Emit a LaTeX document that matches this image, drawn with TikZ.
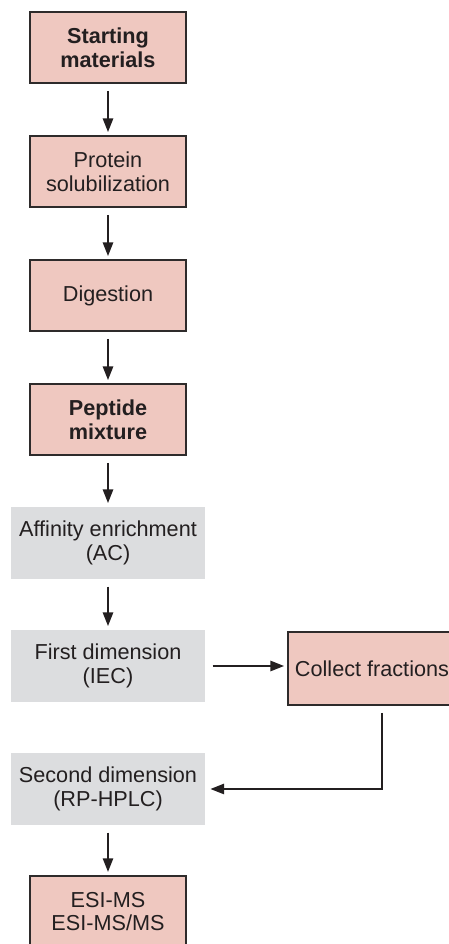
\documentclass[tikz,border=0pt]{standalone}
\usepackage{fontspec}
\setmainfont{Liberation Sans}
\usetikzlibrary{arrows.meta}
\definecolor{ink}{HTML}{231F20}
\definecolor{edge}{HTML}{2E2B2B}
\definecolor{blush}{HTML}{EFC8C0}
\definecolor{haze}{HTML}{DCDDDF}

\begin{document}
\begin{tikzpicture}[
    line width=1.05pt, >={Triangle[length=3.4mm,width=2.6mm]},
    color=ink,
    flow/.style={->, shorten <=1.75mm, shorten >=0.8mm},
    txt/.style={font=\fontsize{15.4}{16.8}\selectfont, text=ink, align=center, inner sep=0pt},
    sample/.style={txt, draw=edge, line width=1.1pt, fill=blush, minimum width=3.9cm, minimum height=1.78cm},
    stage/.style={txt, fill=haze, minimum width=4.85cm, minimum height=1.8cm}]
  % fixed canvas, right and bottom boxes run off the edge
  \path[use as bounding box] (0,0) rectangle (11.225,23.6);
  \clip (0,0) rectangle (11.225,23.6);

  % ================= sample preparation =================
  \node[sample] (start) at (2.70,22.41) {\bfseries Starting\\\bfseries materials};
  \node[sample] (solub) at (2.70,19.31) {Protein\\solubilization};
  \node[sample] (digest) at (2.70,16.21) {Digestion};
  \node[sample] (peptide) at (2.70,13.11) {\bfseries Peptide\\\bfseries mixture};

  % ================= separation =================
  \node[stage] (affinity) at (2.70,10.025) {Affinity enrichment\\(AC)};
  \node[stage] (first) at (2.70,6.95) {First dimension\\(IEC)};
  \node[sample, minimum width=4.2cm, minimum height=1.83cm] (collect) at (9.30,6.89) {Collect fractions};
  \node[stage] (second) at (2.70,3.875) {Second dimension\\(RP-HPLC)};

  % ================= detection =================
  \node[sample] (esi) at (2.70,0.8125) {ESI-MS\\ESI-MS/MS};

  % main column
  \draw[flow] (start) -- (solub);
  \draw[flow] (solub) -- (digest);
  \draw[flow] (digest) -- (peptide);
  \draw[flow] (peptide) -- (affinity);
  \draw[flow] (affinity) -- (first);
  \draw[flow] (second) -- (esi);

  % fraction loop
  \draw[flow] (first.east) -- (first.east -| collect.west);
  \draw[flow, shorten >=1.2mm] ([xshift=0.25cm]collect.south) |- (second);
\end{tikzpicture}
\end{document}
